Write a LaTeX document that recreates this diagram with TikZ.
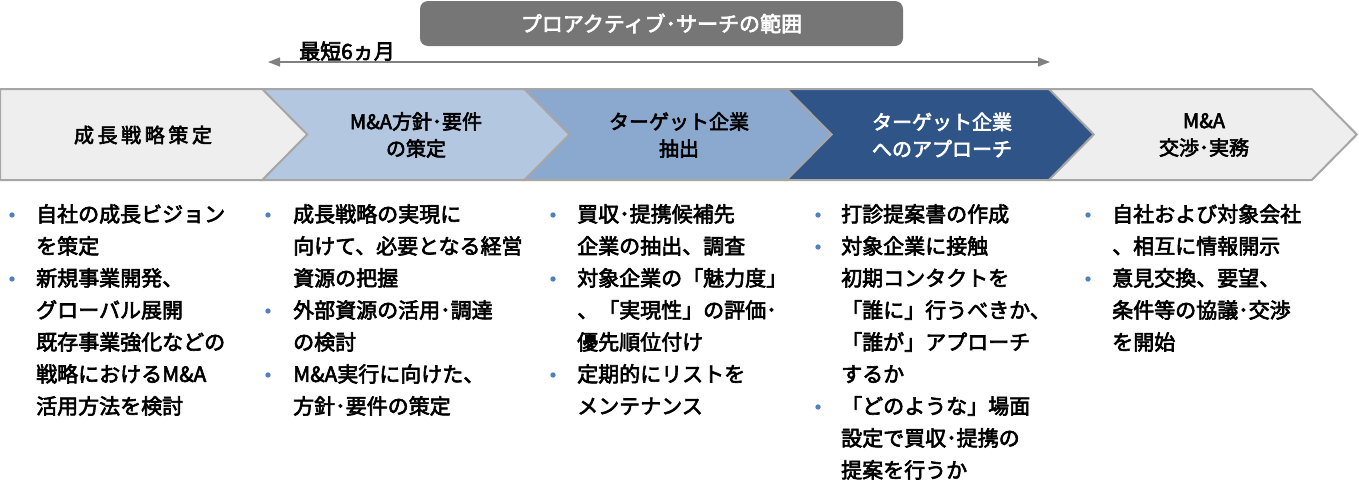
\documentclass[tikz,border=0pt]{standalone}
\usepackage{fontspec}
\setmainfont{Noto Sans CJK JP}[FakeBold=3]
\usepackage{xcolor}
\usepackage{tikz}
\usetikzlibrary{arrows.meta}
\definecolor{bandgray}{RGB}{118, 118, 118}
\definecolor{spangray}{RGB}{128, 128, 128}
\definecolor{chevline}{RGB}{166, 166, 166}
\definecolor{chevgray}{RGB}{238, 238, 238}
\definecolor{chevlight}{RGB}{180, 199, 224}
\definecolor{chevmid}{RGB}{139, 168, 207}
\definecolor{chevdark}{RGB}{47, 84, 135}
\definecolor{dotblue}{RGB}{79, 129, 189}

\begin{document}
\begin{tikzpicture}[x=1pt, y=-1pt,
    banner/.style={rectangle, fill=bandgray, rounded corners=8pt, minimum width=483pt, minimum height=45pt, text=white, font=\fontsize{21}{21}\selectfont},
    chev/.style={draw=chevline, line width=2pt, line join=miter},
    title/.style={align=center, inner sep=0pt, font=\fontsize{20}{27}\selectfont},
    body/.style={anchor=north west, align=left, inner sep=0pt, font=\fontsize{21}{32}\selectfont},
    spanarrow/.style={<->, >={Triangle[length=12pt, width=9pt]}, draw=spangray, line width=1.4pt}
]
    \useasboundingbox (0,0) rectangle (1359,490);

    % top banner and span arrow
    \node[banner] (scope) at (661.5,23.5) {プロアクティブ･サーチの範囲};
    \coordinate (spanL) at (268,62);
    \coordinate (spanR) at (1050,62);
    \draw[spanarrow] (spanL) -- (spanR);
    \node[anchor=base west, inner sep=0pt, font=\fontsize{21}{21}\selectfont] (span) at (299,59) {最短6ヵ月};

    % chevrons
    \foreach \i/\fc in {0/chevgray, 1/chevlight, 2/chevmid, 3/chevdark, 4/chevgray}{
        \pgfmathsetmacro{\xa}{262.2*\i}
        \ifnum\i=0 \def\nx{0}\else\def\nx{45}\fi
        \filldraw[chev, fill=\fc] (\xa,89) -- ++(263,0) -- ++(45,45.5) -- ++(-45,45.5) -- (\xa,180) -- ++(\nx,-45.5) -- cycle;
    }
    \node[title] (strat) at (143,135) {\addfontfeature{LetterSpace=18}成長戦略策定};
    \node[title] (policy) at (416,135) {M\&A方針･要件\\の策定};
    \node[title] (extract) at (679,135) {ターゲット企業\\抽出};
    \node[title, text=white] (approach) at (942,135) {ターゲット企業\\へのアプローチ};
    \node[title] (deal) at (1204,135) {M\&A\\交渉･実務};

    % bullet lists
    \node[body] (list1) at (36,204) {自社の成長ビジョン\\を策定\\新規事業開発、\\グローバル展開\\既存事業強化などの\\戦略におけるM\&A\\活用方法を検討};
    \node[body] (list2) at (293,204) {成長戦略の実現に\\向けて、必要となる経営\\資源の把握\\外部資源の活用･調達\\の検討\\M\&A実行に向けた、\\方針･要件の策定};
    \node[body] (list3) at (577,204) {買収･提携候補先\\企業の抽出、調査\\対象企業の「魅力度」\\、「実現性」の評価･\\優先順位付け\\定期的にリストを\\メンテナンス};
    \node[body] (list4) at (841,204) {打診提案書の作成\\対象企業に接触\\初期コンタクトを\\「誰に」行うべきか、\\「誰が」アプローチ\\するか\\「どのような」場面\\設定で買収･提携の\\提案を行うか};
    \node[body] (list5) at (1112,204) {自社および対象会社\\、相互に情報開示\\意見交換、要望、\\条件等の協議･交渉\\を開始};

    \foreach \x/\r in {12/0, 12/2, 268/0, 268/3, 268/5, 553/0, 553/2, 553/5, 818/0, 818/1, 818/6, 1088/0, 1088/2}
        \fill[dotblue] (\x,215+32*\r) circle (2.7pt);
\end{tikzpicture}
\end{document}
